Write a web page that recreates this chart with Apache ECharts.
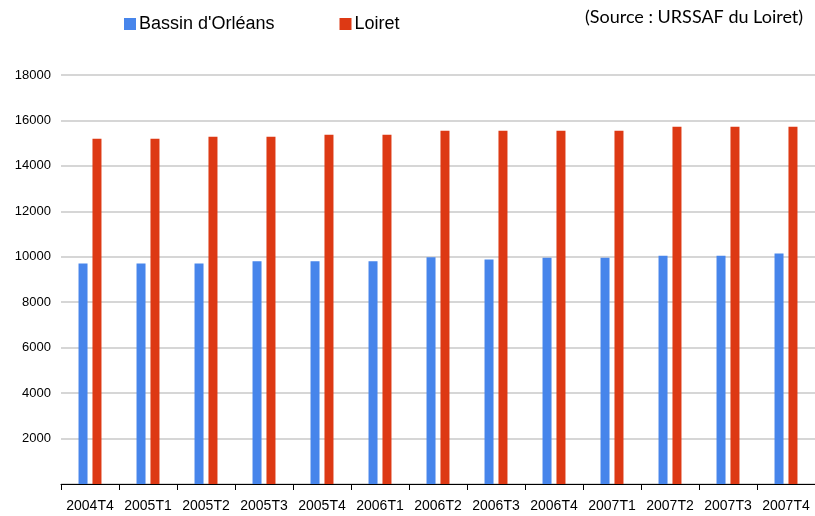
<!DOCTYPE html>
<html><head><meta charset="utf-8">
<script src="https://cdn.jsdelivr.net/npm/echarts@6/dist/echarts.min.js"></script>
<style>html,body{margin:0;padding:0;background:#fff}#c{width:815px;height:516px}</style>
</head><body><div id="c"></div>
<script>
const categories = ["2004T4","2005T1","2005T2","2005T3","2005T4","2006T1","2006T2","2006T3","2006T4","2007T1","2007T2","2007T3","2007T4"];
const bassin = [9700, 9700, 9700, 9800, 9800, 9800, 9980, 9880, 9960, 9960, 10050, 10050, 10140];
const loiret = [15190, 15190, 15280, 15280, 15370, 15370, 15550, 15550, 15550, 15550, 15720, 15720, 15720];
const seriesNames = ["Bassin d'Orléans", "Loiret"];
const sourceText = "(Source : URSSAF du Loiret)";

const font = "'Liberation Sans', Arial, sans-serif";
const chart = echarts.init(document.getElementById('c'), null, {renderer:'canvas'});
chart.setOption({
  animation:false,
  backgroundColor:'#fff',
  textStyle:{fontFamily:font},
  legend:{
    left:119, top:10, itemWidth:12, itemHeight:12, itemGap:65, icon:'rect',
    textStyle:{fontSize:18, color:'#000', fontFamily:font, padding:[0,0,0,-2]},
    data:seriesNames
  },
  graphic:[{type:'text', left:585, top:8, style:{text:sourceText, font:'18px Lato, sans-serif', fill:'#000'}}],
  grid:{left:61, right:0, top:75, bottom:32, containLabel:false},
  xAxis:{
    type:'category', data:categories,
    axisLine:{lineStyle:{color:'#000', width:1}},
    axisTick:{show:true, length:6, lineStyle:{color:'#000'}},
    axisLabel:{fontSize:14, color:'#000', margin:15, interval:0, fontFamily:font}
  },
  yAxis:{
    type:'value', min:0, max:18000, interval:2000,
    axisLine:{show:false}, axisTick:{show:false},
    splitLine:{lineStyle:{color:'#c8c8c8', width:1.5}},
    axisLabel:{fontSize:13, color:'#000', margin:10, fontFamily:font, formatter:v=> v===0?'':String(v)}
  },
  series:[
    {name:seriesNames[0], type:'bar', data:bassin, barWidth:9, barGap:'55%', itemStyle:{color:'#4785eb'}},
    {name:seriesNames[1], type:'bar', data:loiret, barWidth:9, itemStyle:{color:'#dd3914'}}
  ]
});
</script></body></html>
